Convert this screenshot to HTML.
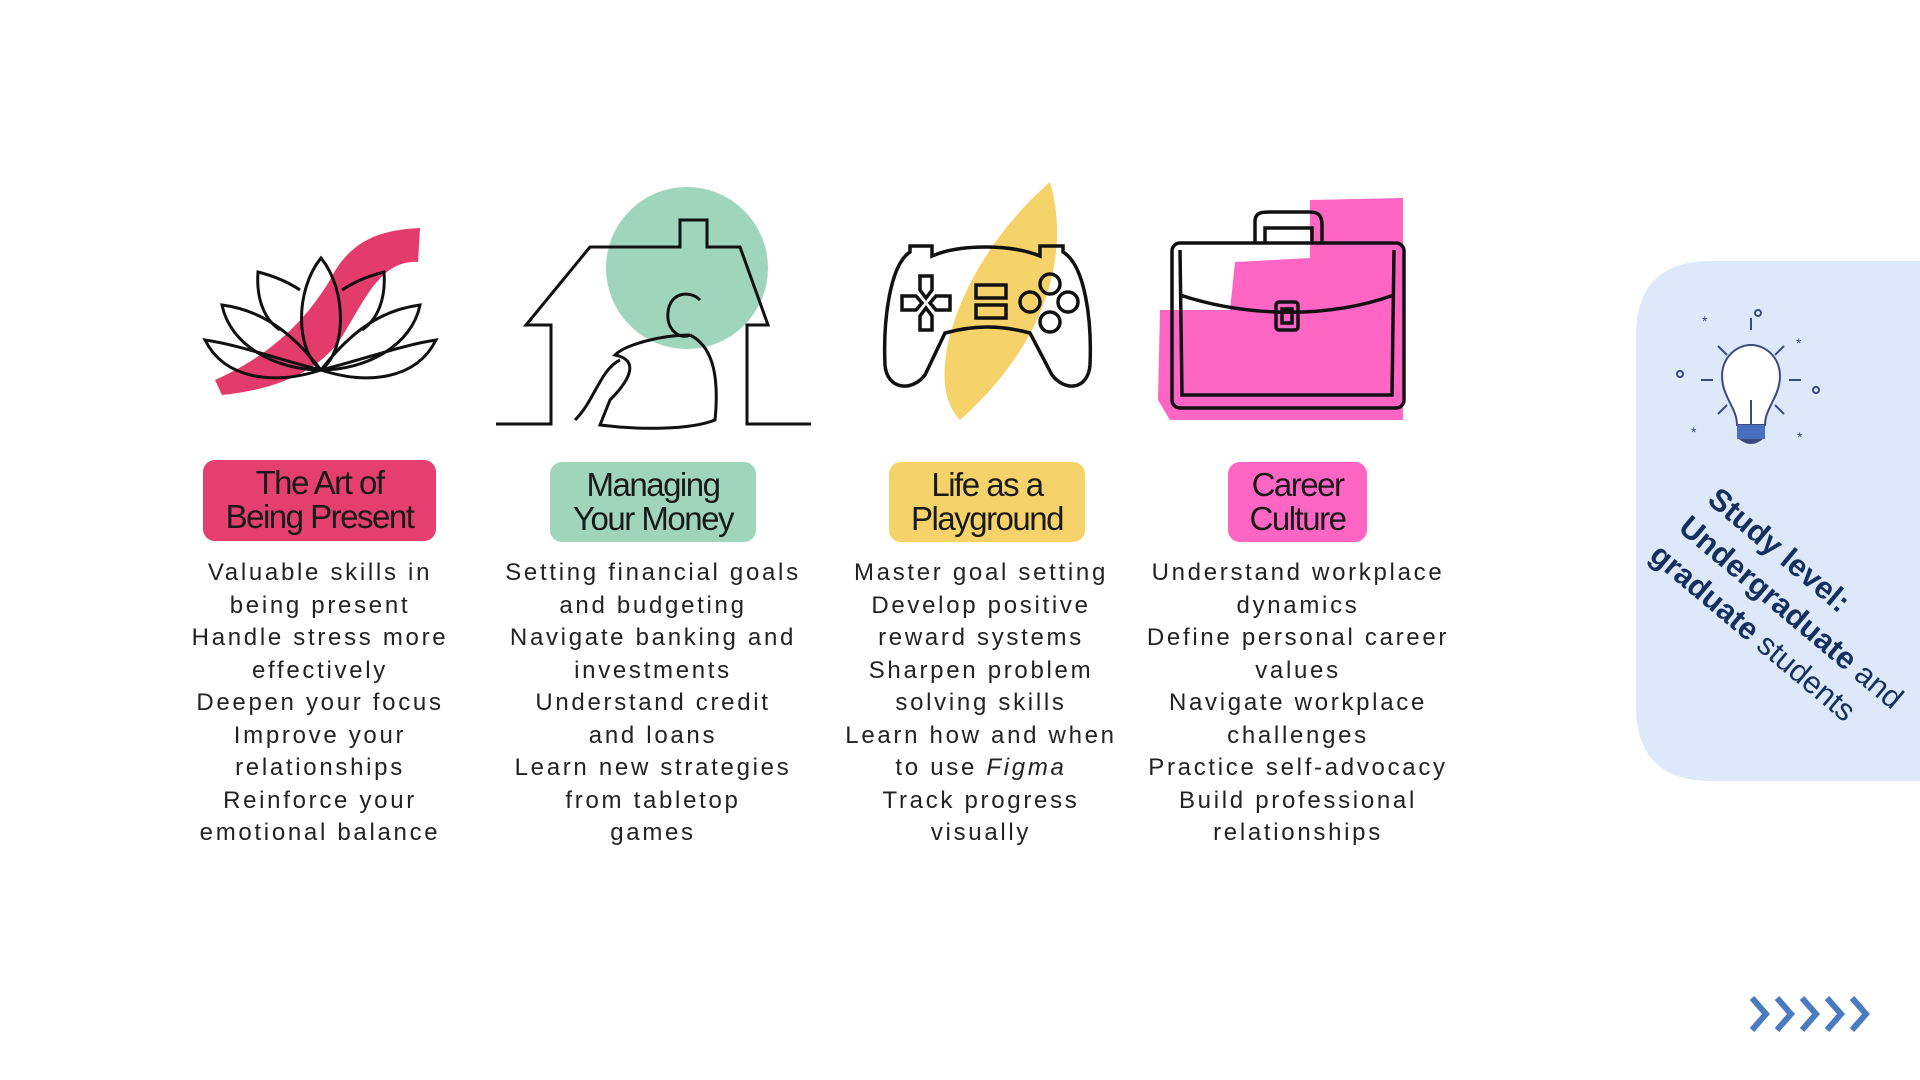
<!DOCTYPE html>
<html><head><meta charset="utf-8"><style>
html,body{margin:0;padding:0;background:#fff;}
body{width:1920px;height:1080px;position:relative;overflow:hidden;font-family:"Liberation Sans",sans-serif;}
.pill{position:absolute;text-align:center;font-size:33px;line-height:34px;letter-spacing:-1.5px;color:#1a1a1a;padding-top:6px;box-sizing:border-box;border-radius:12px;}
.col{position:absolute;top:557px;width:360px;text-align:center;font-size:24px;line-height:32.5px;letter-spacing:2.7px;color:#222;}
</style></head><body>
<svg width="1920" height="1080" style="position:absolute;left:0;top:0">
<path d="M215 380 C260 360 300 330 330 280 C350 240 380 230 420 228 L418 262 C380 260 365 300 340 340 C315 375 270 390 222 395 Z" fill="#e33b6b"/>
<g fill="none" stroke="#111" stroke-width="3">
<path d="M321 258 C295 290 295 350 321 370 C347 350 347 290 321 258 Z"/>
<path d="M321 370 C290 330 260 310 222 305 C230 345 275 370 321 370 Z"/>
<path d="M321 370 C352 330 382 310 420 305 C412 345 367 370 321 370 Z"/>
<path d="M321 370 C280 360 240 345 205 340 C225 380 275 385 321 370 Z"/>
<path d="M321 370 C362 360 402 345 436 340 C416 380 367 385 321 370 Z"/>
<path d="M300 290 C285 280 270 275 258 272 C256 300 265 320 280 330"/>
<path d="M342 290 C357 280 372 275 384 272 C386 300 377 320 362 330"/>
</g>
<circle cx="687" cy="268" r="81" fill="#9fd5bd"/>
<g fill="none" stroke="#111" stroke-width="3">
<path d="M496 424 L551 424 L551 325 L526 325 L590 247 L680 247 L680 220 L707 220 L707 247 L740 247 L768 325 L747 325 L747 424 L811 424"/>
<path d="M700 300 C690 290 670 292 668 312 C666 330 680 340 690 335"/>
<path d="M690 335 C710 345 720 370 715 420 C690 430 640 430 600 425 L610 400 C630 380 640 360 615 355 C625 345 660 335 690 335"/>
<path d="M620 360 C600 370 595 400 575 420"/>
</g>
<path d="M1050 182 C1070 250 1050 340 960 420 C920 380 960 260 1050 182 Z" fill="#f5d36a"/>
<g fill="none" stroke="#111" stroke-width="3.5">
<path d="M910 252 L910 246 L932 246 L932 256 C960 244 1010 244 1040 256 L1040 246 L1063 246 L1063 252 C1085 265 1092 320 1090 365 C1088 390 1065 392 1052 375 L1030 333 C1000 325 975 325 945 333 L925 375 C912 392 887 390 885 365 C883 320 890 265 910 252 Z"/>
<rect x="976" y="285" width="30" height="13"/><rect x="976" y="305" width="30" height="13"/>
<path d="M920 276 L932 276 L932 290 L926 298 L920 290 Z"/><path d="M920 330 L932 330 L932 316 L926 308 L920 316 Z"/>
<path d="M902 296 L916 296 L922 303 L916 310 L902 310 Z"/><path d="M950 296 L936 296 L930 303 L936 310 L950 310 Z"/>
<circle cx="1050" cy="284" r="10"/><circle cx="1030" cy="302" r="10"/><circle cx="1068" cy="302" r="10"/><circle cx="1050" cy="322" r="10"/>
</g>
<path d="M1310 200 L1403 198 L1403 420 L1170 420 L1158 400 L1160 310 L1230 310 L1235 262 L1310 258 Z" fill="#ff66c4"/>
<g fill="none" stroke="#111" stroke-width="3.5">
<path d="M1255 243 L1255 222 C1255 212 1262 212 1270 212 L1310 212 C1318 212 1322 215 1322 225 L1322 243"/>
<path d="M1265 243 L1265 228 L1312 228 L1312 243"/>
<rect x="1172" y="243" width="232" height="165" rx="8"/>
<path d="M1180 295 C1250 318 1330 318 1394 295"/>
<path d="M1180 250 L1182 395 L1392 395 L1394 250"/>
<rect x="1276" y="302" width="22" height="28" rx="3"/><rect x="1282" y="309" width="10" height="14"/>
</g>
<path d="M1711 261 L1920 261 L1920 781 L1711 781 Q1636 781 1636 706 L1636 336 Q1636 261 1711 261 Z" fill="#dde9fb"/>
<g fill="none" stroke="#3a4a80" stroke-width="2">
<path d="M1737 425 C1737 410 1726 400 1723 385 C1718 360 1735 345 1751 345 C1767 345 1784 360 1779 385 C1776 400 1765 410 1765 425 Z" fill="#fff"/>
<line x1="1751" y1="400" x2="1751" y2="430"/>
<line x1="1751" y1="330" x2="1751" y2="318"/><line x1="1713" y1="380" x2="1701" y2="380"/><line x1="1789" y1="380" x2="1801" y2="380"/>
<line x1="1727" y1="355" x2="1718" y2="346"/><line x1="1775" y1="355" x2="1784" y2="346"/><line x1="1727" y1="405" x2="1718" y2="414"/><line x1="1775" y1="405" x2="1784" y2="414"/>
<circle cx="1758" cy="313" r="3"/><circle cx="1680" cy="374" r="3"/><circle cx="1816" cy="390" r="3"/>
</g>
<rect x="1737" y="425" width="28" height="14" fill="#4a6fc0"/><path d="M1739 439 L1763 439 Q1751 449 1739 439Z" fill="#3a4a80"/>
<text x="1702" y="326" font-size="14" fill="#3a4a80" font-family="Liberation Sans">*</text>
<text x="1796" y="348" font-size="14" fill="#3a4a80" font-family="Liberation Sans">*</text>
<text x="1691" y="437" font-size="14" fill="#3a4a80" font-family="Liberation Sans">*</text>
<text x="1797" y="442" font-size="14" fill="#3a4a80" font-family="Liberation Sans">*</text>
<g font-family="Liberation Sans" fill="#15305e" font-size="31">
<text transform="translate(1706,502) rotate(40)" font-weight="bold">Study level:</text>
<text transform="translate(1677,530) rotate(40)"><tspan font-weight="bold">Undergraduate</tspan> and</text>
<text transform="translate(1648,558) rotate(40)"><tspan font-weight="bold">graduate</tspan> students</text>
</g>
<g fill="none" stroke="#4a7bc0" stroke-width="6" stroke-linejoin="miter">
<path d="M1752 998 L1766 1014 L1752 1030"/><path d="M1777 998 L1791 1014 L1777 1030"/><path d="M1802 998 L1816 1014 L1802 1030"/><path d="M1827 998 L1841 1014 L1827 1030"/><path d="M1852 998 L1866 1014 L1852 1030"/>
</g>
</svg>
<div class="pill" style="left:203px;top:460px;width:233px;height:81px;background:#e53f6f;">The Art of<br>Being Present</div>
<div class="pill" style="left:550px;top:462px;width:206px;height:80px;background:#9fd5bd;">Managing<br>Your Money</div>
<div class="pill" style="left:889px;top:462px;width:196px;height:80px;background:#f5d36a;">Life as a<br>Playground</div>
<div class="pill" style="left:1228px;top:462px;width:139px;height:80px;background:#ff66c4;">Career<br>Culture</div>
<div class="col" style="left:140px;">Valuable skills in<br>being present<br>Handle stress more<br>effectively<br>Deepen your focus<br>Improve your<br>relationships<br>Reinforce your<br>emotional balance</div>
<div class="col" style="left:473px;">Setting financial goals<br>and budgeting<br>Navigate banking and<br>investments<br>Understand credit<br>and loans<br>Learn new strategies<br>from tabletop<br>games</div>
<div class="col" style="left:801px;">Master goal setting<br>Develop positive<br>reward systems<br>Sharpen problem<br>solving skills<br>Learn how and when<br>to use <i>Figma</i><br>Track progress<br>visually</div>
<div class="col" style="left:1118px;">Understand workplace<br>dynamics<br>Define personal career<br>values<br>Navigate workplace<br>challenges<br>Practice self-advocacy<br>Build professional<br>relationships</div>
</body></html>
